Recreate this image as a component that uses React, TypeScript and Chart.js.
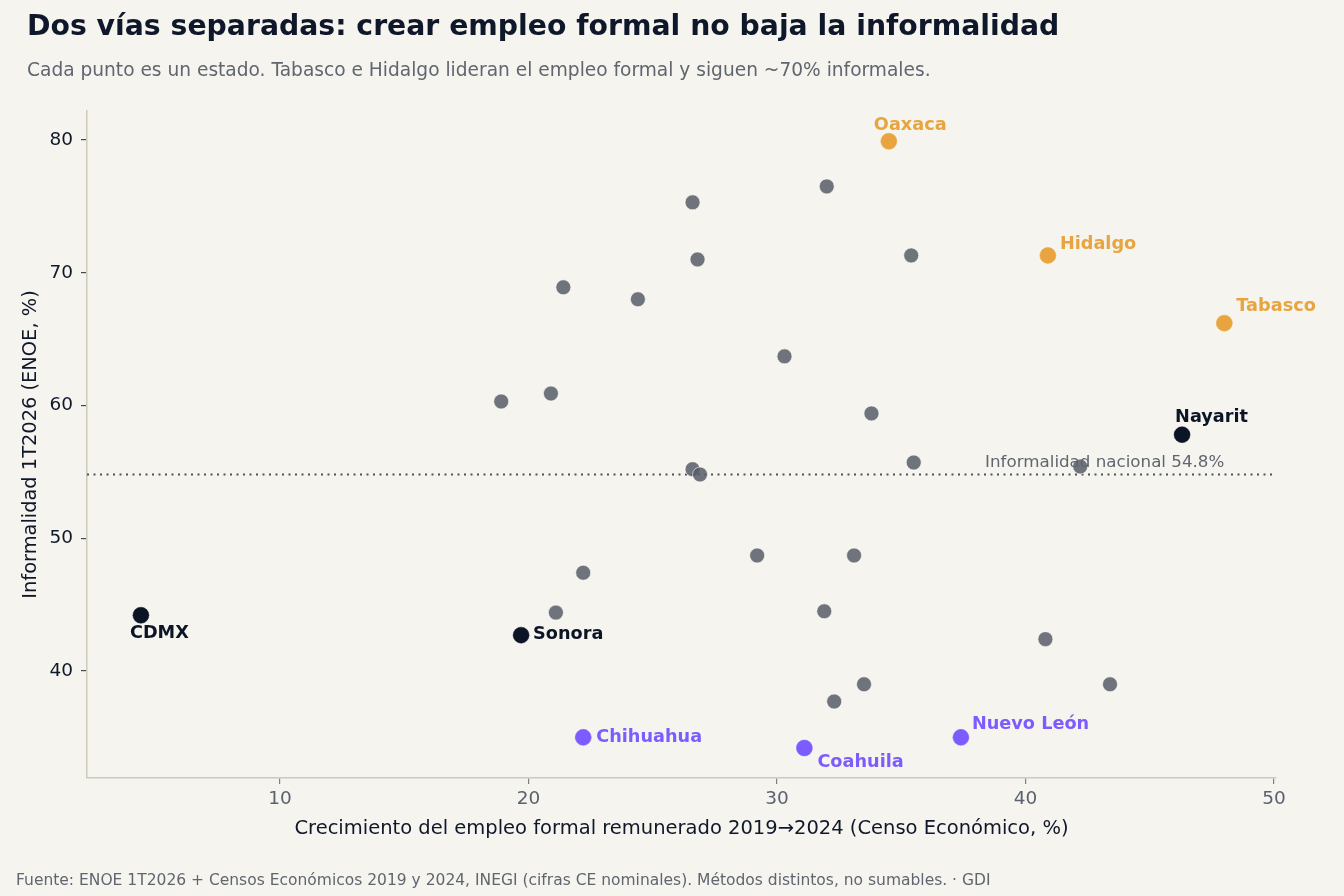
import React, { useEffect, useRef } from 'react';
import { Chart, registerables } from 'chart.js';

Chart.register(...registerables);

// ---- Data ----
const otherGrowth = [26.6, 32.0, 26.8, 35.4, 21.4, 24.4, 30.3, 18.9, 20.9, 33.8, 35.5, 42.2, 26.6, 26.9, 29.2, 33.1, 22.2, 21.1, 31.9, 40.8, 33.5, 43.4, 32.3];
const otherInformality = [75.3, 76.5, 71.0, 71.3, 68.9, 68.0, 63.7, 60.3, 60.9, 59.4, 55.7, 55.4, 55.2, 54.8, 48.7, 48.7, 47.4, 44.4, 44.5, 42.4, 39.0, 39.0, 37.7];

const orangeStates = ['Oaxaca', 'Hidalgo', 'Tabasco'];
const orangeGrowth = [34.5, 40.9, 48.0];
const orangeInformality = [79.9, 71.3, 66.2];

const darkStates = ['Nayarit', 'CDMX', 'Sonora'];
const darkGrowth = [46.3, 4.4, 19.7];
const darkInformality = [57.8, 44.2, 42.7];

const purpleStates = ['Chihuahua', 'Coahuila', 'Nuevo León'];
const purpleGrowth = [22.2, 31.1, 37.4];
const purpleInformality = [35.0, 34.2, 35.0];

const nationalInformality = 54.8;
const nationalLabel = 'Informalidad nacional 54.8%';
const nationalLabelX = 48;

const xTickValues = [10, 20, 30, 40, 50];
const yTickValues = [40, 50, 60, 70, 80];

const titleText = 'Dos vías separadas: crear empleo formal no baja la informalidad';
const subtitleText = 'Cada punto es un estado. Tabasco e Hidalgo lideran el empleo formal y siguen ~70% informales.';
const footerText = 'Fuente: ENOE 1T2026 + Censos Económicos 2019 y 2024, INEGI (cifras CE nominales). Métodos distintos, no sumables. · GDI';
const xAxisTitle = 'Crecimiento del empleo formal remunerado 2019→2024 (Censo Económico, %)';
const yAxisTitle = 'Informalidad 1T2026 (ENOE, %)';

// ---- Styles ----
const BG = '#f6f4ee';
const GRAY = 'rgba(87,93,103,0.85)';
const ORANGE = '#e8a43e';
const PURPLE = '#7c5cff';
const DARK = '#0b1526';
const TEXT_DARK = '#0f172a';
const TEXT_GRAY = '#5f6670';
const FONT = "'DejaVu Sans', 'Noto Sans', sans-serif";

// label offsets in px: [dx to text left, dy to baseline]
const labelOffsets: Record<string, [number, number]> = {
  Oaxaca: [-15, -11],
  Hidalgo: [12, -6],
  Tabasco: [12, -12],
  Nayarit: [-7, -13],
  CDMX: [-11, 23],
  Sonora: [12, 4],
  Chihuahua: [13, 5],
  Coahuila: [13, 19],
  'Nuevo León': [11, -8],
};

const toPoints = (xs: number[], ys: number[]) => xs.map((x, i) => ({ x, y: ys[i] }));

export default function App() {
  const canvasRef = useRef<HTMLCanvasElement | null>(null);

  useEffect(() => {
    document.body.style.margin = '0';
    document.body.style.background = BG;
    const canvas = canvasRef.current;
    if (!canvas) return;

    const bgPlugin = {
      id: 'bg',
      beforeDraw(chart: any) {
        const { ctx, width, height } = chart;
        ctx.save();
        ctx.fillStyle = BG;
        ctx.fillRect(0, 0, width, height);
        ctx.restore();
      },
    };

    const refLinePlugin = {
      id: 'refLine',
      beforeDatasetsDraw(chart: any) {
        const { ctx, chartArea, scales } = chart;
        const y = scales.y.getPixelForValue(nationalInformality);
        ctx.save();
        ctx.strokeStyle = '#4b525c';
        ctx.lineWidth = 2;
        ctx.setLineDash([2, 4.5]);
        ctx.beginPath();
        ctx.moveTo(chartArea.left, y);
        ctx.lineTo(chartArea.right, y);
        ctx.stroke();
        ctx.restore();
      },
      afterDatasetsDraw(chart: any) {
        const { ctx, scales } = chart;
        const y = scales.y.getPixelForValue(nationalInformality);
        const x = scales.x.getPixelForValue(nationalLabelX);
        ctx.save();
        ctx.font = `16.7px ${FONT}`;
        ctx.fillStyle = TEXT_GRAY;
        ctx.textAlign = 'right';
        ctx.textBaseline = 'alphabetic';
        ctx.fillText(nationalLabel, x, y - 8);
        ctx.restore();
      },
    };

    const labelsPlugin = {
      id: 'pointLabels',
      afterDatasetsDraw(chart: any) {
        const { ctx, scales } = chart;
        const groups: [string[], number[], number[], string][] = [
          [orangeStates, orangeGrowth, orangeInformality, ORANGE],
          [darkStates, darkGrowth, darkInformality, DARK],
          [purpleStates, purpleGrowth, purpleInformality, PURPLE],
        ];
        ctx.save();
        ctx.font = `bold 17.7px ${FONT}`;
        ctx.textAlign = 'left';
        ctx.textBaseline = 'alphabetic';
        groups.forEach(([names, xs, ys, color]) => {
          names.forEach((name, i) => {
            const px = scales.x.getPixelForValue(xs[i]);
            const py = scales.y.getPixelForValue(ys[i]);
            const [dx, dy] = labelOffsets[name] || [10, 0];
            ctx.fillStyle = color;
            ctx.fillText(name, px + dx, py + dy);
          });
        });
        ctx.restore();
      },
    };

    const textPlugin = {
      id: 'texts',
      afterDraw(chart: any) {
        const { ctx } = chart;
        ctx.save();
        ctx.textAlign = 'left';
        ctx.textBaseline = 'alphabetic';
        ctx.fillStyle = TEXT_DARK;
        ctx.font = `bold 28.3px ${FONT}`;
        ctx.fillText(titleText, 27, 35);
        ctx.fillStyle = TEXT_GRAY;
        ctx.font = `18.6px ${FONT}`;
        ctx.fillText(subtitleText, 27, 76);
        ctx.font = `15.5px ${FONT}`;
        ctx.fillText(footerText, 16, 885);
        ctx.restore();
      },
    };

    const chart = new Chart(canvas, {
      type: 'scatter',
      data: {
        datasets: [
          {
            label: 'Otros estados',
            data: toPoints(otherGrowth, otherInformality),
            backgroundColor: GRAY,
            borderColor: 'rgba(255,255,255,0.6)',
            borderWidth: 1,
            pointRadius: 7.5,
          },
          {
            label: 'Alta informalidad',
            data: toPoints(orangeGrowth, orangeInformality),
            backgroundColor: ORANGE,
            borderColor: ORANGE,
            borderWidth: 0.5,
            pointRadius: 8,
          },
          {
            label: 'Referencia',
            data: toPoints(darkGrowth, darkInformality),
            backgroundColor: DARK,
            borderColor: DARK,
            borderWidth: 0.5,
            pointRadius: 8,
          },
          {
            label: 'Norte',
            data: toPoints(purpleGrowth, purpleInformality),
            backgroundColor: PURPLE,
            borderColor: PURPLE,
            borderWidth: 0.5,
            pointRadius: 8,
          },
        ],
      },
      options: {
        responsive: false,
        animation: false,
        layout: { padding: { top: 111, left: 0, right: 68, bottom: 46 } },
        plugins: {
          legend: { display: false },
          tooltip: { enabled: false },
          title: { display: false },
        },
        scales: {
          x: {
            type: 'linear',
            min: 2.23,
            max: 50.08,
            afterBuildTicks: (scale: any) => {
              scale.ticks = xTickValues.map((v) => ({ value: v }));
            },
            afterFit: (scale: any) => {
              scale.height = 72;
            },
            grid: { drawOnChartArea: false, drawTicks: true, tickLength: 6, color: '#7a808a', lineWidth: 1.2 },
            border: { display: true, color: '#cfc8bb', width: 1.5 },
            ticks: { color: '#5a6270', font: { family: FONT, size: 18.5 }, padding: 4 },
            title: {
              display: true,
              text: xAxisTitle,
              color: TEXT_DARK,
              font: { family: FONT, size: 19.5 },
              padding: { top: 0, bottom: 9 },
            },
          },
          y: {
            type: 'linear',
            min: 31.94,
            max: 82.18,
            afterBuildTicks: (scale: any) => {
              scale.ticks = yTickValues.map((v) => ({ value: v }));
            },
            afterFit: (scale: any) => {
              scale.width = 87;
            },
            grid: { drawOnChartArea: false, drawTicks: true, tickLength: 6, color: '#444b55', lineWidth: 1.2 },
            border: { display: true, color: '#cfc8bb', width: 1.5 },
            ticks: { color: TEXT_DARK, font: { family: FONT, size: 18.5 }, padding: 8 },
            title: {
              display: true,
              text: yAxisTitle,
              color: TEXT_DARK,
              font: { family: FONT, size: 19.4 },
              padding: { top: 19, bottom: 0 },
            },
          },
        },
      },
      plugins: [bgPlugin, refLinePlugin, labelsPlugin, textPlugin],
    } as any);

    return () => chart.destroy();
  }, []);

  return (
    <div style={{ width: 1344, height: 896, background: BG }}>
      <canvas ref={canvasRef} width={1344} height={896} style={{ width: 1344, height: 896, display: 'block' }} />
    </div>
  );
}
